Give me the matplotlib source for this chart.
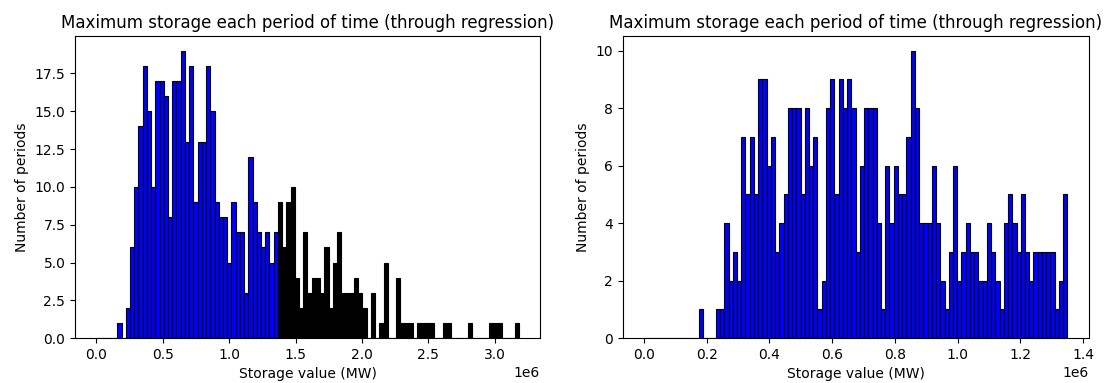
import numpy as np
from matplotlib import pyplot as plt

# counts, 100 bins from 0 to the max value
left_max = 3.18e6
left_blue_counts = [0, 0, 0, 0, 0, 1, 0, 2, 6, 10, 14, 18, 15, 10, 17, 17, 16, 8, 17, 17,
                    19, 13, 18, 9, 13, 13, 18, 15, 9, 8, 8, 5, 9, 7, 7, 3, 12, 9, 7, 6,
                    7, 5, 7]
left_black_counts = [9, 6, 9, 10, 4, 2, 7, 3, 4, 4, 3, 6, 2, 5, 7, 3, 3, 3, 4, 3,
                     2, 0, 3, 0, 1, 5, 0, 0, 4, 1, 1, 1, 0, 1, 1, 1, 1, 0, 0, 1,
                     1, 0, 0, 0, 0, 1, 0, 0, 0, 0, 1, 1, 1, 0, 0, 0, 1]

right_max = 1.35e6
right_counts = [0, 0, 0, 0, 0, 0, 0, 0, 0, 0, 0, 0, 0, 1, 0, 0, 0, 1, 1, 4,
                2, 3, 2, 7, 5, 7, 5, 9, 9, 6, 7, 3, 4, 5, 8, 8, 8, 5, 8, 6,
                7, 1, 2, 8, 9, 5, 9, 8, 9, 8, 3, 6, 8, 8, 8, 4, 1, 6, 4, 6,
                5, 5, 7, 10, 8, 4, 4, 4, 6, 4, 2, 1, 3, 6, 2, 3, 4, 3, 3, 2,
                2, 4, 3, 2, 1, 4, 5, 4, 3, 5, 3, 2, 3, 3, 3, 3, 3, 1, 2, 5]

title = "Maximum storage each period of time (through regression)"

plt.rcParams['font.size'] = 10
fig = plt.figure(figsize=(11.04, 3.83), dpi=100)
ax1 = fig.add_axes([0.068, 0.117, 0.421, 0.788])
ax2 = fig.add_axes([0.564, 0.117, 0.422, 0.788])

# left: all periods, blue part below the cut
edges = np.linspace(0, left_max, 101)
nb = len(left_blue_counts)
ax1.hist(edges[:nb], bins=edges[:nb + 1], weights=left_blue_counts,
         color="blue", edgecolor="black", linewidth=0.8)
ax1.hist(edges[nb:-1], bins=edges[nb:], weights=left_black_counts,
         color="black", edgecolor="black", linewidth=0.8)

# right: only the periods below the cut
edges2 = np.linspace(0, right_max, 101)
ax2.hist(edges2[:-1], bins=edges2, weights=right_counts,
         color="blue", edgecolor="black", linewidth=0.8)

for ax in [ax1, ax2]:
    ax.set_title(title, fontsize=12)
    ax.set_xlabel("Storage value (MW)")
    ax.set_ylabel("Number of periods")

fig.savefig("out.png", dpi=100)
